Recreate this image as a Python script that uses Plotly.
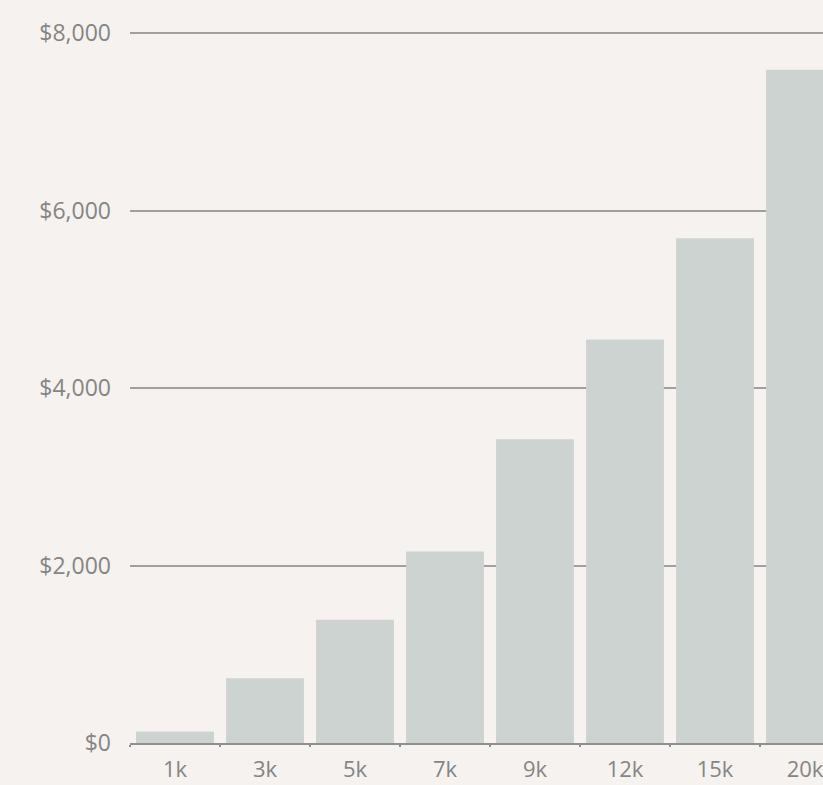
import plotly.graph_objects as go

categories = ["1k", "3k", "5k", "7k", "9k", "12k", "15k", "20k"]
values = [130, 730, 1390, 2160, 3425, 4550, 5690, 7590]
y_ticks = [0, 2000, 4000, 6000, 8000]
y_labels = ["$0", "$2,000", "$4,000", "$6,000", "$8,000"]

fig = go.Figure(
    go.Bar(
        x=categories,
        y=values,
        marker=dict(color="#cdd3d1", line=dict(width=0)),
        hoverinfo="skip",
    )
)

fig.update_layout(
    width=823,
    height=785,
    paper_bgcolor="#f5f2ef",
    plot_bgcolor="#f5f2ef",
    margin=dict(l=130, r=0, t=28.5, b=42),
    bargap=0.135,
    showlegend=False,
    font=dict(family="Open Sans", size=22, color="#858585"),
)

fig.update_xaxes(
    type="category",
    range=[-0.5, 7.2],
    showgrid=False,
    showline=True,
    linecolor="#8f8f8f",
    linewidth=2,
    ticks="outside",
    tickson="boundaries",
    ticklen=2,
    tickwidth=2,
    tickcolor="#8f8f8f",
    ticklabelstandoff=6,
    tickfont=dict(size=22, color="#858585"),
    fixedrange=True,
)

fig.update_yaxes(
    range=[0, 8050],
    tickvals=y_ticks,
    ticktext=y_labels,
    showgrid=True,
    gridcolor="#a0a0a0",
    gridwidth=2,
    zeroline=False,
    showline=False,
    ticks="",
    ticklabelstandoff=18,
    tickfont=dict(size=23, color="#858585"),
    fixedrange=True,
)

fig.write_html(
    "out.html",
    config={"displayModeBar": False},
    post_script="document.body.style.margin='0';document.body.style.background='#f5f2ef';",
)
